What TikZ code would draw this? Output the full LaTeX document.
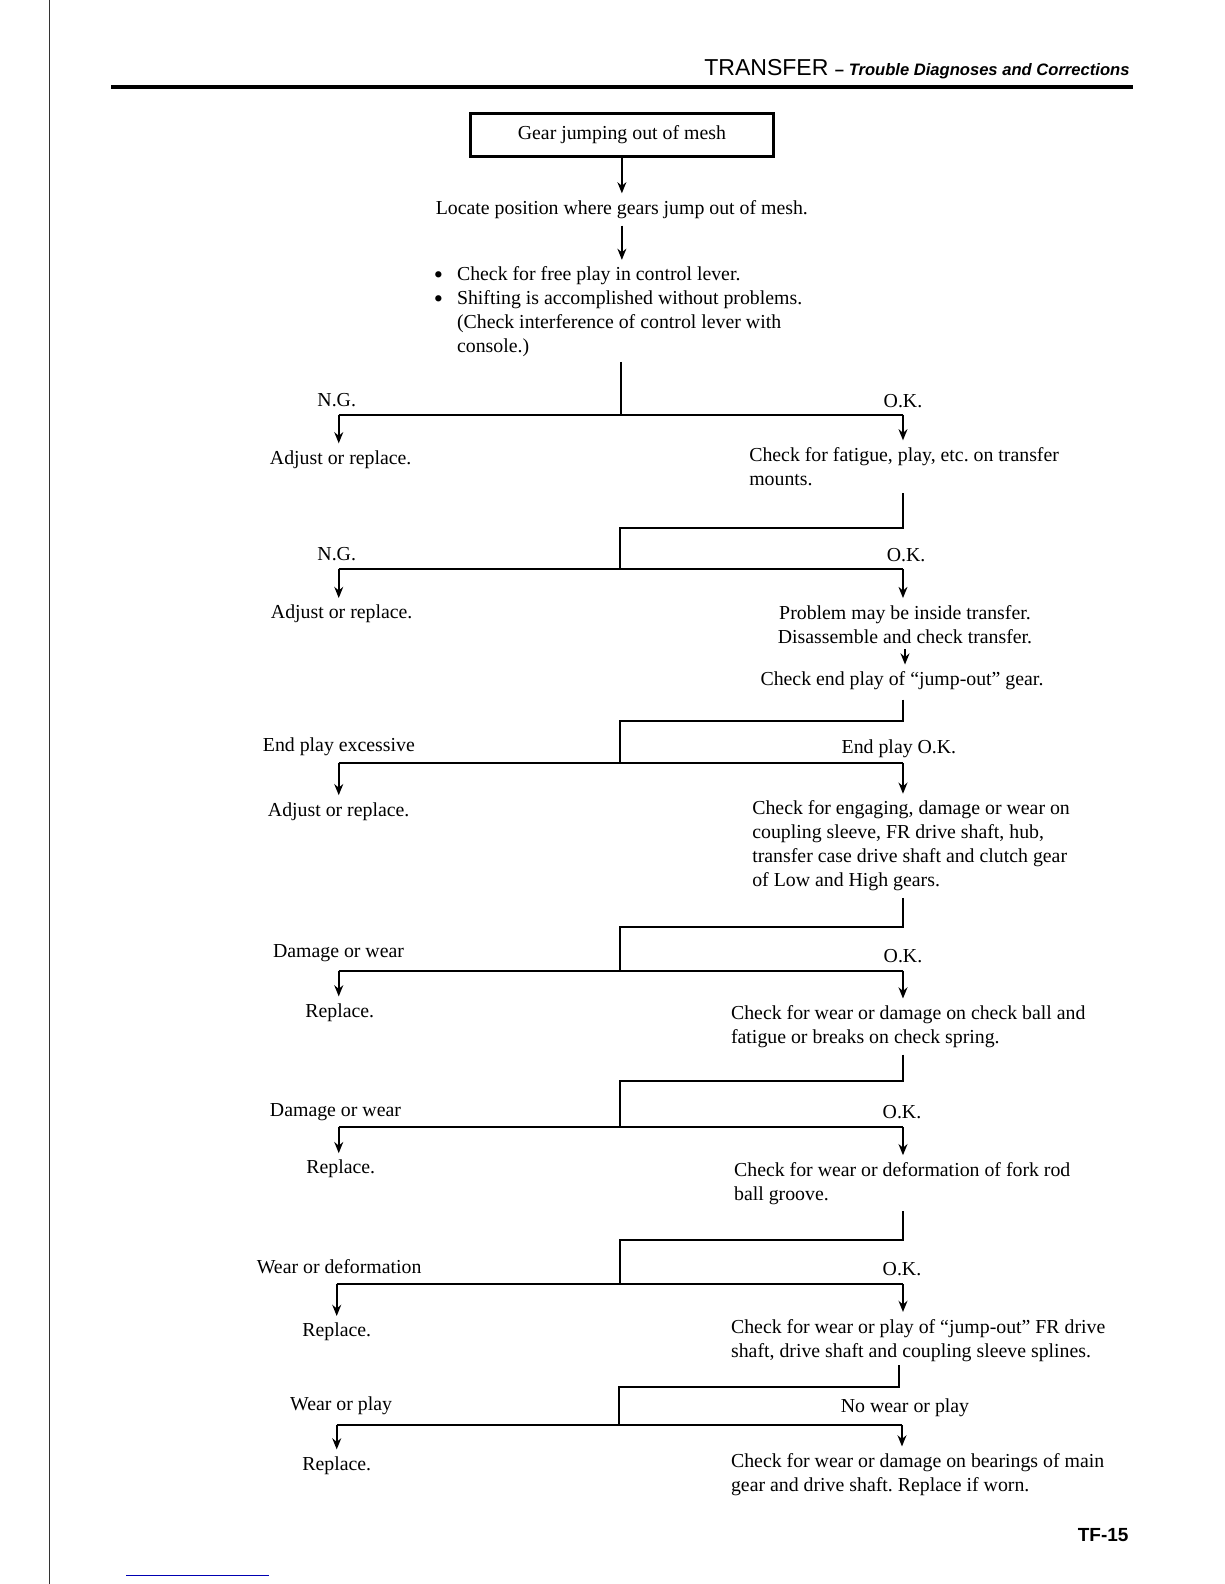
\documentclass[tikz,border=0pt]{standalone}
\usepackage{fontspec}
\setmainfont{Liberation Serif}
\setsansfont{Liberation Sans}
\usetikzlibrary{arrows.meta}
\frenchspacing

\newcommand{\bigbul}{\makebox[11.5pt][l]{\raisebox{-1.2pt}{\fontsize{13}{12}\selectfont\textbullet}}}

\begin{document}
\begin{tikzpicture}[x=0.5pt,y=-0.5pt,line width=1pt,
    txt/.style={inner sep=0pt,font=\fontsize{9.8}{11.87}\selectfont},
    ltxt/.style={txt,anchor=base west,align=left},
    ctxt/.style={txt,anchor=base,align=center},
    flow/.style={-{Stealth[length=5.5pt,width=4.4pt]},shorten >=3pt}]
  \useasboundingbox (0,0) rectangle (1210.5,1566.5);
  % page
  \draw[line width=0.6pt,black!80] (49,0) -- (49,1566);
  \draw[line width=1.6pt] (110,86) -- (1120,86);
  \draw[line width=0.8pt,blue!70!black] (125,1558) -- (266,1558);
  \node[anchor=base east,inner sep=0pt] (head) at (1118,75)
    {\sffamily\fontsize{11.4}{12}\selectfont TRANSFER {\fontsize{8.2}{10}\selectfont\bfseries -- \itshape Trouble Diagnoses and Corrections}};
  \node[anchor=base east,inner sep=0pt] (pageno) at (1117,1524)
    {\sffamily\bfseries\fontsize{9.4}{11}\selectfont TF-15};

  % top
  \node[txt,draw,line width=1.4pt,minimum width=150pt,minimum height=21.3pt] (start) at (615,133.5) {Gear jumping out of mesh};
  \node[ctxt] (locate) at (615,212) {Locate position where gears jump out of mesh.};
  \node[ltxt] (checks) at (428,349) {\bigbul Check for free play in control lever.\\
    \bigbul Shifting is accomplished without problems.\\
    \hspace*{11.5pt}(Check interference of control lever with\\
    \hspace*{11.5pt}console.)};
  \draw[flow] (start) -- (locate);
  \draw[flow,shorten <=3pt] (locate) -- (locate |- checks.north);

  % free play in control lever
  \coordinate (f1) at (614,358);
  \coordinate (j1) at (614,410);
  \coordinate (l1) at (335,410);
  \coordinate (r1) at (893,410);
  \node[ctxt] (ng1) at (333,402) {N.G.};
  \node[ctxt] (ok1) at (893,403) {O.K.};
  \node[ltxt] (adj1) at (266,459) {Adjust or replace.};
  \node[ltxt] (mounts) at (740,480) {Check for fatigue, play, etc. on transfer\\mounts.};
  \draw (f1) -- (j1);
  \draw (l1) -- (r1);
  \draw[flow] (l1) -- (l1 |- adj1.north);
  \draw[flow] (r1) -- (r1 |- mounts.north);

  % transfer mounts
  \coordinate (f2) at (893,488);
  \coordinate (e2) at (613,522);
  \coordinate (j2) at (613,563);
  \coordinate (l2) at (335,563);
  \coordinate (r2) at (893,563);
  \node[ctxt] (ng2) at (333,554) {N.G.};
  \node[ctxt] (ok2) at (896,555) {O.K.};
  \node[ltxt] (adj2) at (267,612) {Adjust or replace.};
  \node[ctxt] (inside) at (895,636) {Problem may be inside transfer.\\Disassemble and check transfer.};
  \node[ctxt] (endplay) at (892,678) {Check end play of “jump-out” gear.};
  \draw (f2) |- (e2) -- (j2);
  \draw (l2) -- (r2);
  \draw[flow] (l2) -- (l2 |- adj2.north);
  \draw[flow] (r2) -- (r2 |- inside.north);
  \draw[flow,shorten <=2.5pt] (inside.south) -- (inside.south |- endplay.north);

  % end play
  \coordinate (f3) at (893,692);
  \coordinate (e3) at (613,713);
  \coordinate (j3) at (613,755);
  \coordinate (l3) at (335,755);
  \coordinate (r3) at (893,755);
  \node[ltxt] (exc) at (259,743) {End play excessive};
  \node[ctxt] (epok) at (889,745) {End play O.K.};
  \node[ltxt] (adj3) at (264,807) {Adjust or replace.};
  \node[ltxt] (engage) at (743,877) {Check for engaging, damage or wear on\\coupling sleeve, FR drive shaft, hub,\\transfer case drive shaft and clutch gear\\of Low and High gears.};
  \draw (f3) |- (e3) -- (j3);
  \draw (l3) -- (r3);
  \draw[flow] (l3) -- (l3 |- adj3.north);
  \draw[flow] (r3) -- (r3 |- engage.north);

  % coupling sleeve etc.
  \coordinate (f4) at (893,888);
  \coordinate (e4) at (613,917);
  \coordinate (j4) at (613,960);
  \coordinate (l4) at (335,960);
  \coordinate (r4) at (893,960);
  \node[ltxt] (dmg4) at (269,947) {Damage or wear};
  \node[ctxt] (ok4) at (893,952) {O.K.};
  \node[ltxt] (rep4) at (301,1006) {Replace.};
  \node[ltxt] (ball) at (722,1032) {Check for wear or damage on check ball and\\fatigue or breaks on check spring.};
  \draw (f4) |- (e4) -- (j4);
  \draw (l4) -- (r4);
  \draw[flow] (l4) -- (l4 |- rep4.north);
  \draw[flow] (r4) -- (r4 |- ball.north);

  % check ball and spring
  \coordinate (f5) at (893,1043);
  \coordinate (e5) at (613,1069);
  \coordinate (j5) at (613,1115);
  \coordinate (l5) at (335,1115);
  \coordinate (r5) at (893,1115);
  \node[ltxt] (dmg5) at (266,1104) {Damage or wear};
  \node[ctxt] (ok5) at (892,1106) {O.K.};
  \node[ltxt] (rep5) at (302,1161) {Replace.};
  \node[ltxt] (groove) at (725,1187) {Check for wear or deformation of fork rod\\ball groove.};
  \draw (f5) |- (e5) -- (j5);
  \draw (l5) -- (r5);
  \draw[flow] (l5) -- (l5 |- rep5.north);
  \draw[flow] (r5) -- (r5 |- groove.north);

  % fork rod ball groove
  \coordinate (f6) at (893,1198);
  \coordinate (e6) at (613,1226);
  \coordinate (j6) at (613,1270);
  \coordinate (l6) at (333,1270);
  \coordinate (r6) at (893,1270);
  \node[ltxt] (def6) at (253,1259) {Wear or deformation};
  \node[ctxt] (ok6) at (892,1261) {O.K.};
  \node[ltxt] (rep6) at (298,1322) {Replace.};
  \node[ltxt] (splines) at (722,1342) {Check for wear or play of “jump-out” FR drive\\shaft, drive shaft and coupling sleeve splines.};
  \draw (f6) |- (e6) -- (j6);
  \draw (l6) -- (r6);
  \draw[flow] (l6) -- (l6 |- rep6.north);
  \draw[flow] (r6) -- (r6 |- splines.north);

  % splines
  \coordinate (f7) at (889,1350);
  \coordinate (e7) at (612,1372);
  \coordinate (j7) at (612,1409);
  \coordinate (l7) at (333,1409);
  \coordinate (r7) at (892,1409);
  \node[ltxt] (play7) at (286,1395) {Wear or play};
  \node[ctxt] (nowear) at (895,1397) {No wear or play};
  \node[ltxt] (rep7) at (298,1454) {Replace.};
  \node[ltxt] (bearings) at (722,1475) {Check for wear or damage on bearings of main\\gear and drive shaft. Replace if worn.};
  \draw (f7) |- (e7) -- (j7);
  \draw (l7) -- (r7);
  \draw[flow] (l7) -- (l7 |- rep7.north);
  \draw[flow] (r7) -- (r7 |- bearings.north);
\end{tikzpicture}
\end{document}
